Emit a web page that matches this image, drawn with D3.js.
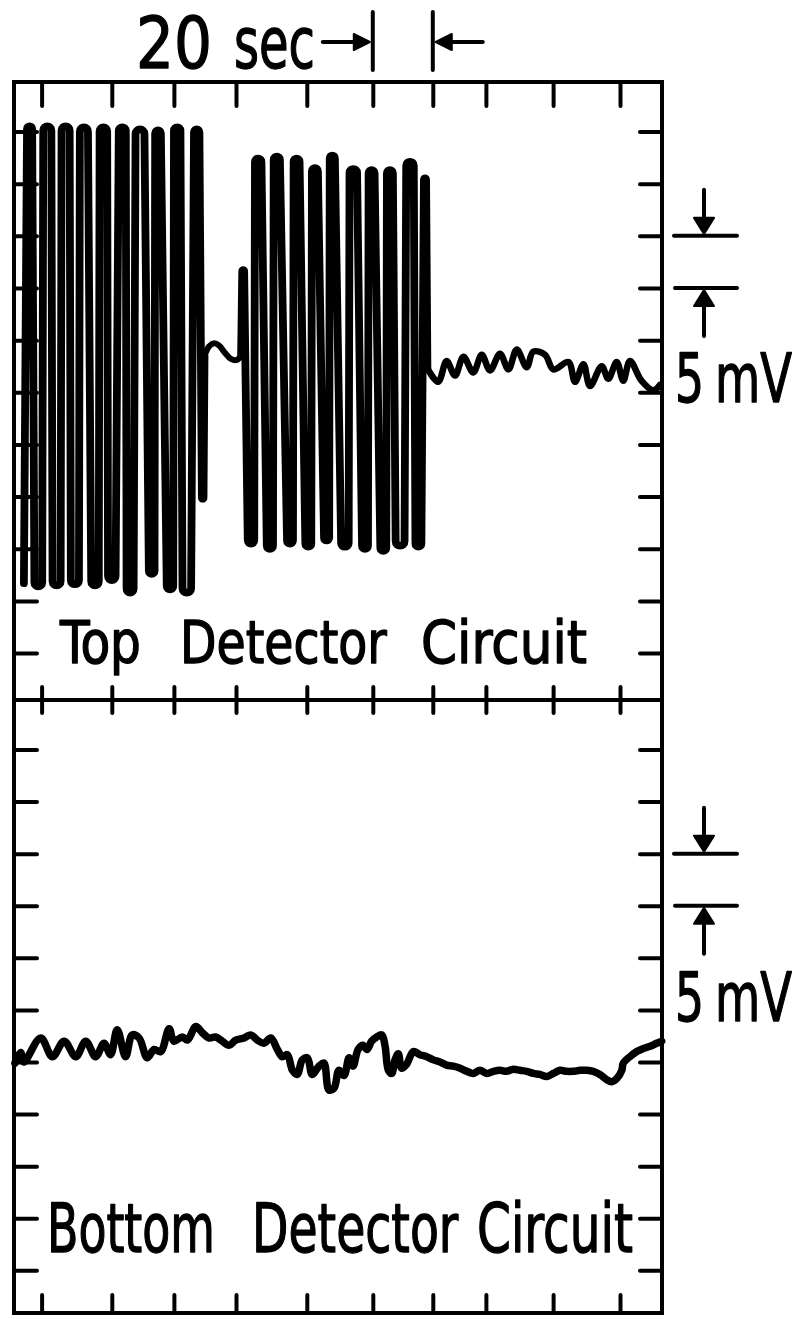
<!DOCTYPE html>
<html>
<head>
<meta charset="utf-8">
<script src="https://cdn.jsdelivr.net/npm/d3@7"></script>
<style>
  html, body { margin: 0; padding: 0; background: #fff; }
  svg { display: block; }
  text { font-family: "DejaVu Sans Condensed", "DejaVu Sans", sans-serif; fill: #000; stroke: #000; stroke-width: 1.3; stroke-linejoin: round; }
</style>
</head>
<body>
<svg id="chart" width="800" height="1318"></svg>
<script>
// ---- data ---------------------------------------------------------------
// time in seconds, signal in mV
const timeDomain = [0, 216];
const timeTicks = [9.2, 32.6, 53.3, 74.0, 97.6, 119.6, 139.6, 157.3, 179.7, 202.0];
const timeBar = [119.6, 139.6];            // 20 sec reference interval
const timeLabel = "20 sec";

const mvTicks = [-25, -20, -15, -10, -5, 0, 5, 10, 15, 20, 25];
const mvBar = [10, 15];                    // 5 mV reference interval
const mvLabel = "5 mV";
const topDomain = [-29.5, 29.75];
const bottomDomain = [-29.1, 29.75];

const topLabel = "Top Detector Circuit";
const bottomLabel = "Bottom Detector Circuit";

// top detector: first burst of full-scale swings (turning points)
const topBurst1 = [
  [3.3, -18.3], [5.2, 25.5], [8.1, -18.6], [11.1, 25.5], [14.2, -18.5], [17.2, 25.5],
  [20.3, -18.4], [23.3, 25.4], [27.0, -18.5], [29.8, 25.4], [32.6, -18.0], [36.1, 25.4],
  [38.7, -19.2], [42.0, 25.2], [45.9, -17.4], [48.0, 25.1], [52.0, -18.9], [54.4, 25.4],
  [57.6, -19.2], [60.9, 25.2], [62.9, -10.2], [63.5, 3.5]
];
// top detector: quiet interval between bursts
const topPause = [
  [63.5, 3.5], [65.0, 4.4], [66.7, 4.7], [68.3, 4.5], [70.3, 3.8], [72.3, 3.2], [74.3, 3.1], [75.7, 3.5]
];
// top detector: second burst (turning points)
const topBurst2 = [
  [75.7, 3.5], [76.4, 11.7], [79.0, -14.5], [81.4, 22.4], [85.3, -15.0], [87.6, 22.6],
  [92.0, -14.5], [94.2, 22.4], [98.1, -14.8], [100.3, 21.5], [104.2, -14.2], [106.1, 22.7],
  [110.3, -14.8], [113.1, 21.4], [117.0, -15.0], [119.2, 21.3], [123.1, -15.2], [125.3, 21.3],
  [128.7, -14.7], [132.0, 22.1], [134.8, -14.8], [137.0, 20.5], [137.8, 2.3]
];
// top detector: baseline after the second burst
const topTail = [
  [137.8, 2.3], [141.4, 1.0], [144.2, 3.0], [147.0, 1.6], [149.8, 3.4], [153.1, 1.9],
  [155.9, 3.6], [158.7, 2.1], [162.0, 3.7], [164.8, 2.2], [167.6, 4.1], [170.9, 2.4],
  [173.1, 3.9], [177.0, 3.6], [179.8, 2.2], [184.8, 2.9], [187.0, 1.0], [189.8, 2.7],
  [192.0, 0.6], [195.9, 2.5], [198.1, 1.3], [200.9, 2.9], [203.1, 1.1], [205.3, 3.0],
  [209.2, 1.1], [213.1, 0.2], [215.3, 0.7]
];
// bottom detector: whole record
const bottomTrace = [
  [0.3, -5.1], [2.2, -4.1], [3.3, -5.0], [8.9, -2.7], [12.8, -4.5], [16.7, -3.0],
  [20.6, -4.5], [23.9, -3.0], [27.2, -4.5], [30.0, -3.2], [32.2, -4.3], [34.4, -1.9],
  [37.2, -4.5], [39.4, -2.4], [41.7, -2.7], [44.4, -4.6], [46.7, -3.8], [48.9, -4.0],
  [51.7, -1.8], [53.3, -3.0], [56.1, -2.6], [57.8, -2.9], [60.6, -1.6], [62.8, -2.2],
  [65.0, -2.7], [67.2, -2.6], [69.4, -3.0], [71.7, -3.4], [73.9, -2.9], [76.7, -2.7],
  [78.9, -2.4], [81.1, -2.9], [83.3, -3.2], [85.6, -2.7], [87.8, -3.8], [89.4, -4.5],
  [91.1, -4.3], [92.8, -5.8], [94.4, -6.2], [96.1, -4.8], [97.8, -4.6], [99.4, -6.2],
  [101.7, -5.4], [103.3, -5.1], [105.0, -7.7], [106.7, -7.5], [108.3, -5.8], [110.0, -6.3],
  [111.7, -4.6], [113.0, -5.4], [114.7, -3.8], [116.3, -3.4], [117.7, -3.8], [119.2, -3.0],
  [120.9, -2.6], [122.6, -2.4], [123.7, -3.5], [124.8, -5.8], [125.9, -6.1], [127.0, -4.8],
  [128.1, -4.2], [129.2, -5.6], [130.9, -5.2], [133.1, -4.0], [135.3, -4.3], [137.6, -4.5],
  [139.8, -4.8], [142.0, -5.0], [144.2, -5.3], [146.4, -5.4], [148.7, -5.6], [150.9, -5.9],
  [153.1, -6.1], [155.3, -5.8], [157.6, -6.1], [159.8, -5.9], [162.0, -5.8], [164.2, -5.9],
  [166.4, -5.7], [168.7, -5.8], [170.9, -5.9], [173.1, -6.1], [175.3, -6.2], [177.6, -6.4],
  [179.8, -6.1], [182.0, -5.8], [184.2, -5.9], [186.4, -5.9], [188.7, -5.8], [190.9, -5.8],
  [193.1, -5.9], [195.3, -6.2], [197.6, -6.7], [199.2, -6.9], [200.9, -6.6], [202.6, -5.8],
  [203.1, -5.1], [205.3, -4.5], [207.6, -4.0], [209.8, -3.7], [212.0, -3.5], [214.2, -3.2],
  [215.9, -3.0]
];

// ---- layout -------------------------------------------------------------
const svg = d3.select("#chart");
const ink = "#000";
const F = { left: 14, right: 662, top: 82, mid: 700, bottom: 1313 };

const x = d3.scaleLinear().domain(timeDomain).range([F.left, F.right]);
const yTop = d3.scaleLinear().domain(topDomain).range([F.mid, F.top]);
const yBot = d3.scaleLinear().domain(bottomDomain).range([F.bottom, F.mid]);

const tickStyle = g => {
  g.select(".domain").remove();
  g.selectAll(".tick line").attr("stroke", ink).attr("stroke-width", 4).attr("stroke-linecap", "round");
};

// time ticks along the top edge, across the divider and along the bottom edge
svg.append("g").attr("transform", `translate(0,${F.top})`)
  .call(d3.axisBottom(x).tickValues(timeTicks).tickSize(24).tickFormat("")).call(tickStyle);
svg.append("g").attr("transform", `translate(0,${F.mid - 13})`)
  .call(d3.axisBottom(x).tickValues(timeTicks).tickSize(26).tickFormat("")).call(tickStyle);
svg.append("g").attr("transform", `translate(0,${F.bottom})`)
  .call(d3.axisTop(x).tickValues(timeTicks).tickSize(18).tickFormat("")).call(tickStyle);

// mV ticks on both side edges of each panel
[yTop, yBot].forEach(y => {
  svg.append("g").attr("transform", `translate(${F.left},0)`)
    .call(d3.axisRight(y).tickValues(mvTicks).tickSize(23).tickFormat("")).call(tickStyle);
  svg.append("g").attr("transform", `translate(${F.right},0)`)
    .call(d3.axisLeft(y).tickValues(mvTicks).tickSize(22).tickFormat("")).call(tickStyle);
});

// frame and divider
svg.append("rect")
  .attr("x", F.left).attr("y", F.top)
  .attr("width", F.right - F.left).attr("height", F.bottom - F.top)
  .attr("fill", "none").attr("stroke", ink).attr("stroke-width", 4);
svg.append("line")
  .attr("x1", F.left).attr("x2", F.right).attr("y1", F.mid).attr("y2", F.mid)
  .attr("stroke", ink).attr("stroke-width", 4);

// ---- traces -------------------------------------------------------------
// pen swings: straight strokes joined by rounded turns at every turning point
function swingPath(pts, y) {
  const P = pts.map(d => [x(d[0]), y(d[1])]);
  const p = d3.path();
  p.moveTo(P[0][0], P[0][1]);
  for (let i = 1; i < P.length - 1; i++) {
    const [xi, yi] = P[i];
    const gap = Math.min(xi - P[i - 1][0], P[i + 1][0] - xi);
    const r = Math.max(0.5, Math.min(5, gap * 0.45));
    const s = yi < P[i - 1][1] ? 1 : -1;
    const yb = yi + s * r;
    const c = yb - s * r * 4 / 3;
    p.lineTo(xi - r, yb);
    p.bezierCurveTo(xi - r, c, xi + r, c, xi + r, yb);
  }
  const last = P[P.length - 1];
  p.lineTo(last[0], last[1]);
  return p.toString();
}
const smooth = y => d3.line().x(d => x(d[0])).y(d => y(d[1])).curve(d3.curveCatmullRom.alpha(0.5));

function trace(d, w) {
  svg.append("path").attr("d", d)
    .attr("fill", "none").attr("stroke", ink).attr("stroke-width", w)
    .attr("stroke-linecap", "round").attr("stroke-linejoin", "round");
}
trace(swingPath(topBurst1, yTop), 7.8);
trace(smooth(yTop)(topPause), 6);
trace(swingPath(topBurst2, yTop), 7.8);
trace(smooth(yTop)(topTail), 6.5);
trace(smooth(yBot)(bottomTrace), 7.5);

// ---- lettering ----------------------------------------------------------
// each word is scaled horizontally to its lettering width
function word(str, x0, x1, baseline, size) {
  const t = svg.append("text").attr("font-size", size).text(str);
  const bb = t.node().getBBox();
  const sx = (x1 - x0) / bb.width;
  t.attr("transform", `translate(${x0 - bb.x * sx},${baseline}) scale(${sx},1)`);
}
function lettering(str, spans, baseline, size) {
  str.split(" ").forEach((w, i) => word(w, spans[i][0], spans[i][1], baseline, size));
}
lettering(timeLabel, [[136, 212], [234, 315]], 68, 72);
lettering(topLabel, [[59, 141], [180, 387], [421, 587]], 663, 59);
lettering(bottomLabel, [[47, 215], [252, 459], [477, 633]], 1252, 68);
lettering(mvLabel, [[675, 704], [715, 792]], 402, 68);
lettering(mvLabel, [[675, 704], [715, 792]], 1021, 68);

// ---- reference bars -----------------------------------------------------
function arrowHead(tipX, tipY, dx, dy, half) {
  // dx/dy: unit direction from base toward tip
  const bx = tipX - dx * 16, by = tipY - dy * 16;
  const nx = -dy * half, ny = dx * half;
  svg.append("path")
    .attr("d", `M${tipX},${tipY}L${bx + nx},${by + ny}L${bx - nx},${by - ny}Z`)
    .attr("fill", ink).attr("stroke", ink).attr("stroke-width", 2).attr("stroke-linejoin", "round");
}
function seg(x1, y1, x2, y2) {
  svg.append("line").attr("x1", x1).attr("y1", y1).attr("x2", x2).attr("y2", y2)
    .attr("stroke", ink).attr("stroke-width", 4).attr("stroke-linecap", "round");
}

// 20 sec interval above the frame
const bx0 = x(timeBar[0]), bx1 = x(timeBar[1]), barY = 42;
seg(bx0, 12, bx0, 70);
seg(bx1, 12, bx1, 70);
seg(bx0 - 50, barY, bx0 - 12, barY);
arrowHead(bx0 - 3, barY, 1, 0, 8);
seg(bx1 + 12, barY, bx1 + 50, barY);
arrowHead(bx1 + 3, barY, -1, 0, 8);

// 5 mV interval beside each panel
const mvX = 704;
[yTop, yBot].forEach(y => {
  const yHi = y(mvBar[1]), yLo = y(mvBar[0]);
  seg(674, yHi, 737, yHi);
  seg(675, yLo, 737, yLo);
  seg(mvX, yHi - 46, mvX, yHi - 12);
  arrowHead(mvX, yHi - 2, 0, 1, 10);
  seg(mvX, yLo + 12, mvX, yLo + 48);
  arrowHead(mvX, yLo + 2, 0, -1, 10);
});
</script>
</body>
</html>
